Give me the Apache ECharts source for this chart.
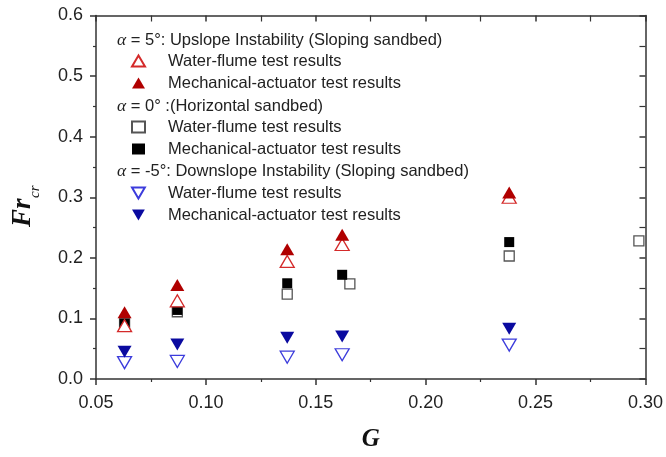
<!DOCTYPE html>
<html>
<head>
<meta charset="utf-8">
<script src="https://cdn.jsdelivr.net/npm/echarts@6/dist/echarts.min.js"></script>
<style>
  html, body { margin: 0; padding: 0; background: #fff; }
  #chart { width: 666px; height: 457px; }
</style>
</head>
<body>
<div id="chart"></div>
<script>
// 数据 (G, Fr_cr)
var up_flume = [[0.063, 0.088], [0.087, 0.129], [0.137, 0.194], [0.162, 0.222], [0.238, 0.300]];
var up_actuator = [[0.063, 0.110], [0.087, 0.155], [0.137, 0.214], [0.162, 0.238], [0.238, 0.308]];
var flat_flume = [[0.063, 0.092], [0.087, 0.111], [0.137, 0.140], [0.1655, 0.157], [0.238, 0.203], [0.297, 0.228]];
var flat_actuator = [[0.063, 0.091], [0.087, 0.114], [0.137, 0.158], [0.162, 0.172], [0.238, 0.226]];
var down_flume = [[0.063, 0.027], [0.087, 0.029], [0.137, 0.036], [0.162, 0.040], [0.238, 0.056]];
var down_actuator = [[0.063, 0.045], [0.087, 0.057], [0.137, 0.068], [0.162, 0.070], [0.238, 0.083]];

var NAME_FLUME = 'Water-flume test results';
var NAME_ACT = 'Mechanical-actuator test results';
var group_titles = [
    '{a|α} = 5°: Upslope Instability (Sloping sandbed)',
    '{a|α} = 0° :(Horizontal sandbed)',
    '{a|α} = -5°: Downslope Instability (Sloping sandbed)'
];

var chart = echarts.init(document.getElementById('chart'));

var FONT = '"Liberation Sans", Arial, sans-serif';
var SERIF = '"Liberation Serif", "DejaVu Serif", serif';
var AXIS_COLOR = '#333';
var TXT = 16.5;
// 倒三角图例
var DOWN_TRI = 'path://M0,0L14,0L7,12Z';

function mainAxis(extra) {
    var base = {
        axisLine: { show: true, onZero: false, lineStyle: { color: AXIS_COLOR, width: 1.5 } },
        axisTick: { show: true, length: 6, lineStyle: { color: AXIS_COLOR, width: 1.5 } },
        minorTick: { show: true, splitNumber: 2, length: 3, lineStyle: { color: AXIS_COLOR, width: 1.2 } },
        splitLine: { show: false }
    };
    for (var k in extra) base[k] = extra[k];
    return base;
}

var headerText = function (txt, y) {
    return {
        type: 'text',
        left: 117,
        top: y,
        style: {
            text: txt,
            fill: '#222',
            font: TXT + 'px ' + FONT,
            rich: {
                a: { fontFamily: SERIF, fontStyle: 'italic', fontSize: TXT + 1, fill: '#222' }
            }
        }
    };
};

// y 轴标题 Fr_cr (竖排, 下标)
var yTitle = {
    type: 'group',
    x: 23,
    y: 227,
    rotation: Math.PI / 2,
    children: [
        {
            type: 'text', x: 0, y: 0,
            style: { text: 'Fr', fill: '#111', font: 'italic bold 27px ' + SERIF, verticalAlign: 'middle', align: 'left' }
        },
        {
            type: 'text', x: 29, y: 12,
            style: { text: 'cr', fill: '#111', font: 'italic 15px ' + SERIF, verticalAlign: 'middle', align: 'left' }
        }
    ]
};

// 图例 (三组)
function makeLegend(top, items) {
    return {
        orient: 'vertical',
        left: 131,
        top: top,
        padding: 0,
        itemWidth: 13,
        itemHeight: 11,
        itemGap: 5,
        selectedMode: false,
        formatter: function (name) {
            return '{t|' + (name.indexOf('flume') >= 0 ? NAME_FLUME : NAME_ACT) + '}';
        },
        textStyle: {
            color: '#222',
            rich: {
                t: { color: '#222', fontSize: TXT, fontFamily: FONT, lineHeight: 16, padding: [0, 0, 0, 18] }
            }
        },
        data: items
    };
}

var option = {
    animation: false,
    backgroundColor: '#fff',
    grid: { left: 96, right: 20, top: 15.5, bottom: 69 },
    graphic: [
        headerText(group_titles[0], 31),
        headerText(group_titles[1], 97),
        headerText(group_titles[2], 162),
        yTitle
    ],
    legend: [
        makeLegend(52.5, ['up_flume', 'up_actuator']),
        makeLegend(118.5, ['flat_flume', 'flat_actuator']),
        makeLegend(184.5, [{ name: 'down_flume', icon: DOWN_TRI }, { name: 'down_actuator', icon: DOWN_TRI }])
    ],
    xAxis: [
        mainAxis({
            type: 'value', min: 0.05, max: 0.30, interval: 0.05, position: 'bottom',
            axisLabel: {
                color: '#222', fontSize: 18, fontFamily: FONT, margin: 15,
                formatter: function (v) { return v.toFixed(2); }
            },
            name: 'G',
            nameLocation: 'middle',
            nameGap: 48,
            nameTextStyle: { fontFamily: SERIF, fontStyle: 'italic', fontWeight: 'bold', fontSize: 25, color: '#111' }
        }),
        mainAxis({
            type: 'value', min: 0.05, max: 0.30, interval: 0.05, position: 'top',
            axisTick: { show: true, inside: true, length: 6, lineStyle: { color: AXIS_COLOR, width: 1.5 } },
            minorTick: { show: true, splitNumber: 2, length: 6, lineStyle: { color: AXIS_COLOR, width: 1.2 } },
            axisLabel: { show: false }
        })
    ],
    yAxis: [
        mainAxis({
            type: 'value', min: 0, max: 0.6, interval: 0.1, position: 'left',
            axisLabel: {
                color: '#222', fontSize: 18, fontFamily: FONT, margin: 13,
                formatter: function (v) { return v.toFixed(1); }
            }
        }),
        mainAxis({
            type: 'value', min: 0, max: 0.6, interval: 0.1, position: 'right',
            axisTick: { show: true, inside: true, length: 6, lineStyle: { color: AXIS_COLOR, width: 1.5 } },
            minorTick: { show: true, splitNumber: 2, length: 6, lineStyle: { color: AXIS_COLOR, width: 1.2 } },
            axisLabel: { show: false }
        })
    ],
    series: [
        {
            id: 'flat_flume', name: 'flat_flume', type: 'scatter', data: flat_flume,
            symbol: 'rect', symbolSize: 10, symbolKeepAspect: true,
            itemStyle: { color: '#fff', borderColor: '#555', borderWidth: 1.3, opacity: 1 }
        },
        {
            id: 'flat_actuator', name: 'flat_actuator', type: 'scatter', data: flat_actuator,
            symbol: 'rect', symbolSize: 10, symbolKeepAspect: true,
            itemStyle: { color: '#000', opacity: 1 }
        },
        {
            id: 'up_flume', name: 'up_flume', type: 'scatter', data: up_flume,
            symbol: 'triangle', symbolSize: [14, 12],
            itemStyle: { color: '#fff', borderColor: '#d42a2a', borderWidth: 1.3, opacity: 1 }
        },
        {
            id: 'up_actuator', name: 'up_actuator', type: 'scatter', data: up_actuator,
            symbol: 'triangle', symbolSize: [14, 12],
            itemStyle: { color: '#b00000', opacity: 1 }
        },
        {
            id: 'down_flume', name: 'down_flume', type: 'scatter', data: down_flume,
            symbol: 'triangle', symbolRotate: 180, symbolSize: [14, 12],
            itemStyle: { color: '#fff', borderColor: '#3c3cdc', borderWidth: 1.3, opacity: 1 }
        },
        {
            id: 'down_actuator', name: 'down_actuator', type: 'scatter', data: down_actuator,
            symbol: 'triangle', symbolRotate: 180, symbolSize: [14, 12],
            itemStyle: { color: '#0a0aa0', opacity: 1 }
        }
    ]
};

chart.setOption(option);
</script>
</body>
</html>
